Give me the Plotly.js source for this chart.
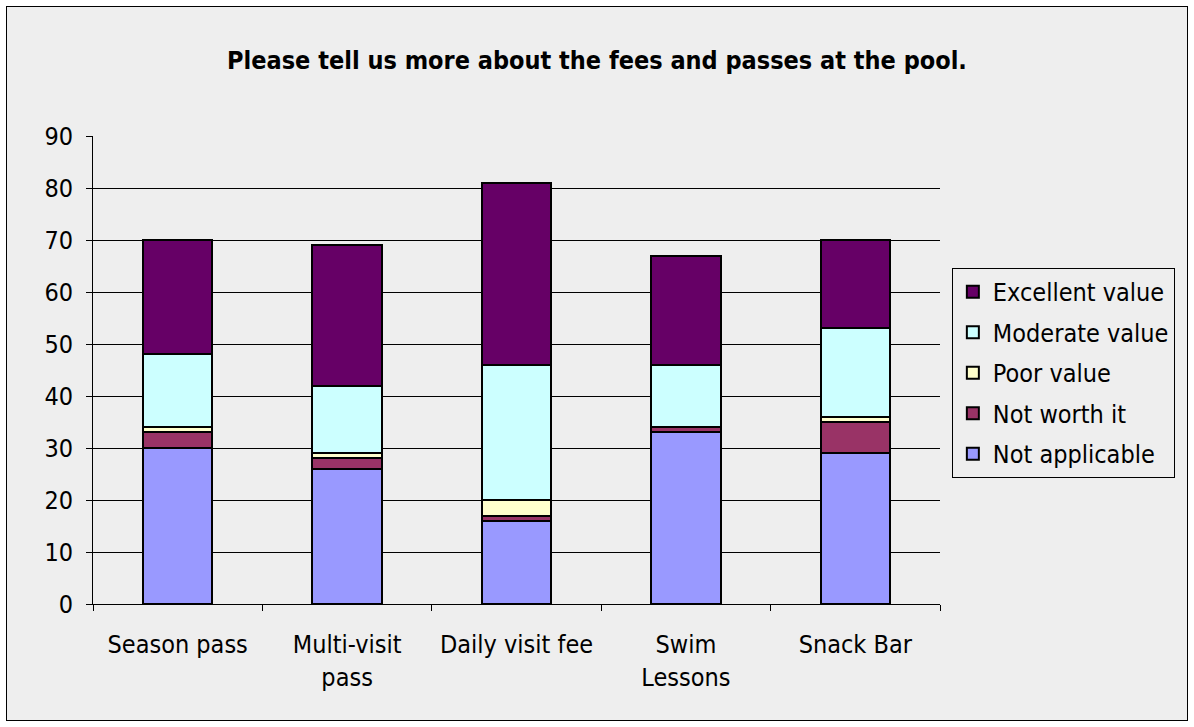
<!DOCTYPE html>
<html>
<head>
<meta charset="utf-8">
<script src="https://cdn.plot.ly/plotly-3.0.1.min.js"></script>
<style>
  html, body { margin: 0; padding: 0; background: #ffffff; }
  #wrap { position: absolute; left: 6px; top: 6px; width: 1180px; height: 713px; border: 1px solid #000; background: #eeeeee; }
  #chart { width: 1180px; height: 713px; }
</style>
</head>
<body>
<div id="wrap"><div id="chart"></div></div>
<script>
const categories = ["Season pass", "Multi-visit<br>pass", "Daily visit fee", "Swim<br>Lessons", "Snack Bar"];
const notApplicable = [30, 26, 16, 33, 29];
const notWorthIt = [3, 2, 1, 1, 6];
const poorValue = [1, 1, 3, 0, 1];
const moderateValue = [14, 13, 26, 12, 17];
const excellentValue = [22, 27, 35, 21, 17];

const seriesNames = ["Not applicable", "Not worth it", "Poor value", "Moderate value", "Excellent value"];
const seriesValues = [notApplicable, notWorthIt, poorValue, moderateValue, excellentValue];
const seriesColors = ["#9999ff", "#993366", "#ffffcc", "#ccffff", "#660066"];

const traces = seriesNames.map((n, i) => ({
  type: "bar",
  name: n,
  legendgroup: "g" + i,
  legendrank: 1000 - i,
  x: categories,
  y: seriesValues[i],
  marker: { color: seriesColors[i], line: { color: "#000000", width: 2 } },
  hoverinfo: "x+y+name"
}));

const FONT = "'DejaVu Sans Condensed', 'DejaVu Sans', Verdana, sans-serif";

const layout = {
  width: 1180,
  height: 713,
  barmode: "stack",
  bargap: 0.59,
  paper_bgcolor: "#eeeeee",
  plot_bgcolor: "#eeeeee",
  font: { family: FONT, size: 25, color: "#000" },
  title: { text: "<b>Please tell us more about the fees and passes at the pool.</b>", font: { size: 25 }, x: 0.5, xanchor: "center", y: 0.925, yanchor: "middle" },
  margin: { l: 86, r: 247, t: 129, b: 116 },
  xaxis: {
    type: "category",
    showline: true, linecolor: "#000", linewidth: 1,
    ticks: "outside", tickson: "boundaries", ticklen: 6, tickcolor: "#000",
    tickfont: { size: 25 },
    ticklabelstandoff: 18,
    showgrid: false
  },
  yaxis: {
    range: [0, 90], dtick: 10,
    showline: true, linecolor: "#000", linewidth: 1,
    ticks: "outside", ticklen: 6, tickcolor: "#000",
    gridcolor: "#000", gridwidth: 1,
    tickfont: { size: 25 },
    ticklabelstandoff: 8,
    zeroline: false
  },
  legend: {
    x: 1.014, xanchor: "left", y: 0.718, yanchor: "top",
    bgcolor: "#eeeeee", bordercolor: "#000", borderwidth: 1,
    font: { size: 25 },
    traceorder: "grouped",
    itemwidth: 30,
    tracegroupgap: 5
  },
  showlegend: true
};

Plotly.newPlot("chart", traces, layout, { displayModeBar: false });
</script>
</body>
</html>
